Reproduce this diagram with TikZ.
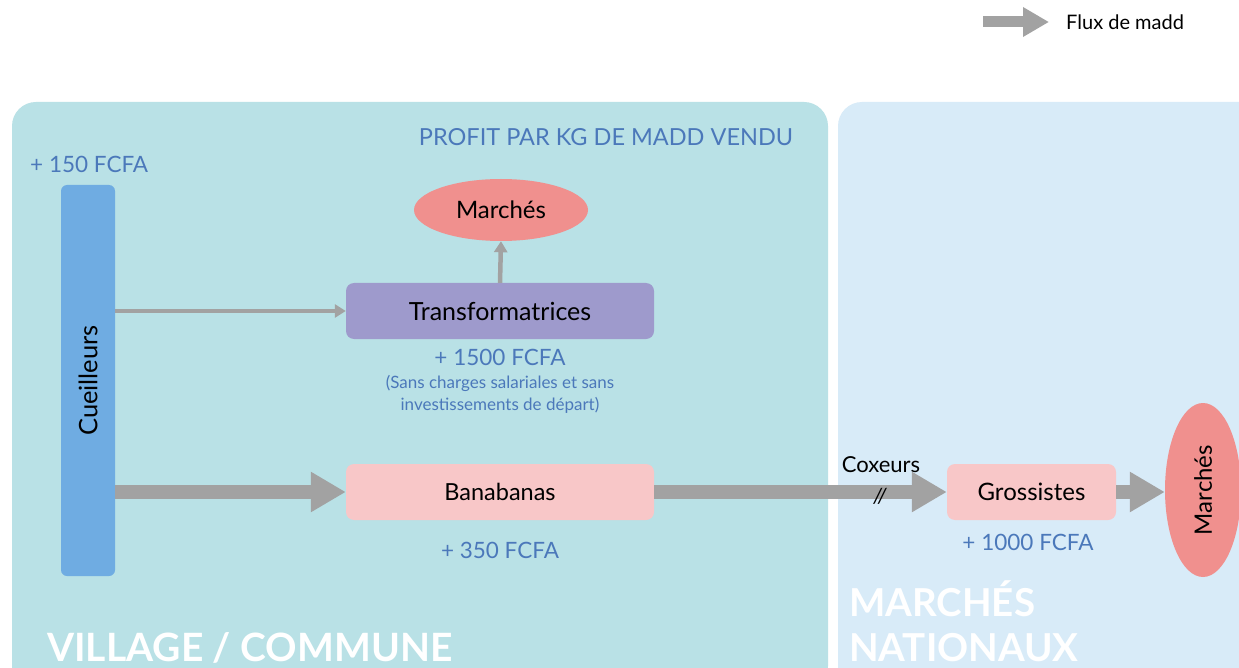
\documentclass[tikz,border=0pt]{standalone}
\usepackage{fontspec}
\setmainfont{Lato}
\usetikzlibrary{arrows.meta,shapes.geometric}
\definecolor{villagebg}{HTML}{B9E1E6}
\definecolor{nationbg}{HTML}{D8EBF8}
\definecolor{cueil}{HTML}{6FACE2}
\definecolor{transf}{HTML}{9E9ACC}
\definecolor{pinkbox}{HTML}{F8C7C8}
\definecolor{marche}{HTML}{F0908E}
\definecolor{flux}{HTML}{A2A2A2}
\definecolor{profit}{HTML}{4B78BA}
\tikzset{
  panel/.style={rounded corners=24pt, draw=none},
  boxnode/.style={rounded corners=8pt, draw=none, inner sep=0pt},
  profittxt/.style={text=profit, font=\fontsize{22.5}{26}\selectfont, inner sep=0pt},
  label/.style={text=black, font=\fontsize{24}{28}\selectfont, inner sep=0pt},
  bigflow/.style={draw=flux, line width=14pt, -{Triangle[length=35pt,width=38pt]}},
  thinflow/.style={draw=flux, line width=4.5pt, -{Triangle[length=11pt,width=13pt]}},
  title/.style={text=white, font=\fontsize{39}{45}\selectfont\bfseries, inner sep=0pt, anchor=base west}
}
\begin{document}
\begin{tikzpicture}[x=1pt,y=-1pt]
\clip (0,0) rectangle (1239,668);
\fill[white] (0,0) rectangle (1239,668);
% panels
\fill[villagebg, panel] (12,102) rectangle (828,690);
\fill[nationbg, panel] (838,102) rectangle (1270,690);
\fill[villagebg] (12,640) rectangle (828,668);
\fill[nationbg] (838,640) rectangle (1239,668);
% legend
\coordinate (legA) at (983,22);
\node[anchor=west, font=\fontsize{20}{24}\selectfont, inner sep=0pt] (legT) at (1066,22) {Flux de madd};
\draw[draw=flux, line width=11pt, -{Triangle[length=26pt,width=28pt]}] (legA) -- (1049,22);
% titles
\node[profittxt, font=\fontsize{23.5}{27}\selectfont] (ptitle) at (606,137) {PROFIT PAR KG DE MADD VENDU};
\node[title] (village) at (47,661) {VILLAGE / COMMUNE};
\node[title, font=\fontsize{38.5}{44}\selectfont\bfseries] (nation1) at (849,616) {MARCHÉS};
\node[title, font=\fontsize{38.5}{44}\selectfont\bfseries] (nation2) at (849,661) {NATIONAUX};
% nodes
\node[boxnode, fill=cueil, minimum width=54pt, minimum height=391pt, rounded corners=6pt] (cueil) at (88,380.5) {};
\node[label, rotate=90, font=\fontsize{25.5}{28}\selectfont] at (cueil.center) {Cueilleurs};
\node[profittxt, anchor=west] (p150) at (30,164) {+ 150 FCFA};
\node[boxnode, fill=transf, minimum width=308pt, minimum height=56pt, label, font=\fontsize{25}{28}\selectfont] (transf) at (500,311) {Transformatrices};
\node[ellipse, fill=marche, minimum width=174pt, minimum height=62pt, inner sep=0pt, label] (march1) at (501,210) {Marchés};
\node[profittxt] (p1500) at (500,357) {+ 1500 FCFA};
\node[text=profit, font=\fontsize{17}{22}\selectfont, align=center, inner sep=0pt] (note) at (500,394) {(Sans charges salariales et sans\\investissements de départ)};
\node[boxnode, fill=pinkbox, minimum width=308pt, minimum height=56pt, label, font=\fontsize{23.5}{28}\selectfont] (bana) at (500,492) {Banabanas};
\node[profittxt] (p350) at (500,550) {+ 350 FCFA};
\node[boxnode, fill=pinkbox, minimum width=169pt, minimum height=56pt, label] (gross) at (1031.5,492) {Grossistes};
\node[profittxt] (p1000) at (1028,542) {+ 1000 FCFA};
\node[ellipse, fill=marche, minimum width=76pt, minimum height=174pt, inner sep=0pt] (march2) at (1203,490) {};
\node[label, rotate=90] at (march2.center) {Marchés};
% connectors
\draw[thinflow] (transf.north) -- (march1.south);
\draw[thinflow] (cueil.east |- transf.west) -- (transf.west);
\draw[bigflow] (cueil.east |- bana.west) -- (bana.west);
\draw[bigflow] (bana.east) -- (gross.west);
\node[label, font=\fontsize{22}{26}\selectfont] (cox) at (881,465) {Coxeurs};
\node[label, font=\fontsize{21}{24}\selectfont\itshape] (slash) at (880,496) {//};
\draw[bigflow] (gross.east) -- (march2.west |- gross.east);
\end{tikzpicture}
\end{document}
